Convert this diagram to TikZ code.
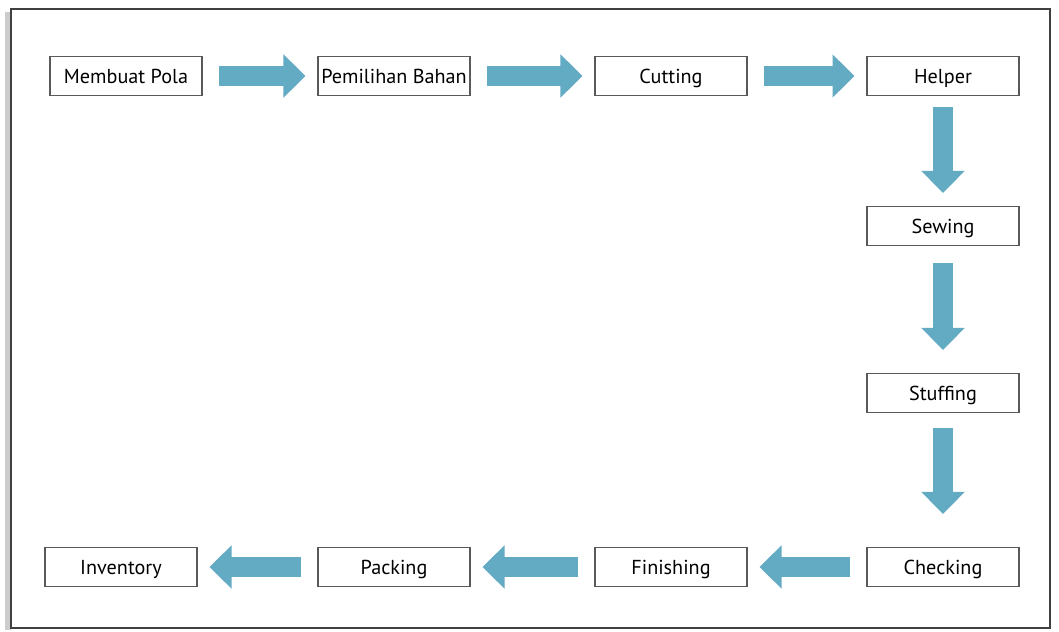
\documentclass[tikz,border=0pt]{standalone}
\usepackage{fontspec}
\setmainfont{PT Sans}
\usetikzlibrary{arrows.meta}
\definecolor{flowblue}{RGB}{99,170,195}

\begin{document}
\begin{tikzpicture}[x=0.02cm,y=-0.02cm,
  box/.style={draw=black!65,line width=0.6pt,fill=white,minimum width=3.04cm,minimum height=0.78cm,inner sep=0pt,text height=1.95ex,text depth=0.15ex,font=\fontsize{11.5}{13}\selectfont},
  flow/.style={draw=flowblue,line width=0.4cm,-{Triangle[width=0.84cm,length=0.44cm]},shorten <=0.32cm,shorten >=0.24cm}]
\useasboundingbox (0,0) rectangle (1059,632);
\fill[white] (0,0) rectangle (1059,632);
\fill[black!20] (5,12) rectangle (11,630);
\draw[black!75,line width=1pt] (11,9) rectangle (1050,628);

% top row
\node[box] (pola) at (126,76) {Membuat Pola};
\node[box] (bahan) at (394,76) {Pemilihan Bahan};
\node[box] (cutting) at (671,76) {Cutting};
\node[box] (helper) at (943,76) {Helper};
% right column
\node[box] (sewing) at (943,226) {Sewing};
\node[box] (stuffing) at (943,393) {Stuffing};
% bottom row
\node[box] (checking) at (943,567) {Checking};
\node[box] (finishing) at (671,567) {Finishing};
\node[box] (packing) at (394,567) {Packing};
\node[box] (inventory) at (121,567) {Inventory};

\draw[flow] (pola) -- (bahan);
\draw[flow] (bahan) -- (cutting);
\draw[flow] (cutting) -- (helper);
\draw[flow,shorten <=0.22cm,shorten >=0.26cm] (helper) -- (sewing);
\draw[flow,shorten <=0.34cm,shorten >=0.46cm] (sewing) -- (stuffing);
\draw[flow,shorten <=0.3cm,shorten >=0.66cm] (stuffing) -- (checking);
\draw[flow] (checking) -- (finishing);
\draw[flow] (finishing) -- (packing);
\draw[flow] (packing) -- (inventory);

\end{tikzpicture}
\end{document}
